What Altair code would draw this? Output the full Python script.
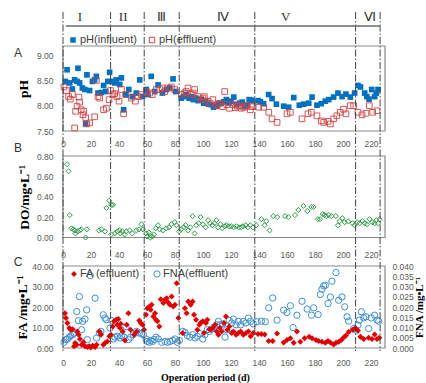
import altair as alt
import pandas as pd

# ---------------- data ----------------
infl_day = [1.7, 2.9, 4.8, 6.7, 8.3, 10.0, 10.7, 11.9, 13.8, 15.5, 16.2, 17.1, 19.0, 21.0, 22.6,
            23.8, 25.0, 27.4, 29.0, 30.5, 32.0, 33.3, 35.2, 36.9, 38.0, 40.5, 41.7, 43.3, 44.8, 47.0,
            49.5, 52.4, 54.8, 56.7, 59.5, 60.7, 63.0, 65.5, 67.9, 71.0, 73.8, 76.2, 78.6, 80.5,
            84.5, 86.0, 88.0, 90.0, 91.7, 93.0, 95.0, 96.5, 98.8, 100.5, 102.0, 104.0, 106.0, 107.5,
            109.5, 111.0, 113.0, 115.0, 116.7, 118.5, 120.0, 122.0, 124.0, 126.0, 128.0, 129.5, 131.4,
            133.0, 135.0, 139.3, 141.0, 143.3, 146.9, 149.3, 152.4, 157.6, 161.2, 164.8, 168.8, 171.9,
            175.5, 177.9, 181.4, 184.5, 187.4, 189.8, 193.3, 196.4, 199.3, 202.1, 205.2, 208.3,
            210.7, 212.5, 215.5, 217.0, 218.6, 220.5, 222.6, 223.8, 225.0]
infl_ph = [8.48, 8.71, 8.45, 8.33, 8.51, 8.48, 8.74, 8.45, 8.35, 8.32, 7.64, 8.61, 8.30, 8.48, 8.51,
           8.58, 8.25, 8.26, 8.40, 8.28, 8.48, 8.66, 8.48, 8.45, 8.51, 8.42, 8.55, 7.92, 8.22, 8.32,
           8.18, 8.25, 8.51, 8.18, 8.32, 8.22, 8.58, 8.28, 8.41, 8.25, 8.32, 8.35, 8.53, 8.28,
           8.15, 8.18, 8.22, 8.15, 8.18, 8.12, 8.15, 8.10, 8.12, 8.05, 8.09, 8.03, 8.02, 7.97,
           7.99, 8.04, 8.05, 8.08, 8.12, 8.06, 8.09, 8.17, 8.02, 8.05, 8.07, 7.98, 8.01,
           8.12, 8.11, 8.10, 8.08, 8.04, 8.22, 8.14, 8.03, 7.99, 7.97, 8.16, 8.01, 8.03,
           8.05, 8.17, 8.01, 8.04, 8.09, 8.12, 8.17, 8.25, 8.18, 8.23, 8.17, 8.25,
           8.40, 8.37, 8.25, 8.18, 8.13, 8.32, 8.18, 8.25, 8.32]

effl_day = [0.7, 2.4, 4.0, 5.2, 6.7, 8.3, 9.0, 10.0, 11.4, 11.9, 13.0, 14.3, 14.8, 16.2, 17.0,
            19.0, 22.6, 23.8, 25.0, 26.2, 29.0, 31.0, 32.9, 34.0, 35.7, 36.9, 38.6, 40.0, 41.7,
            43.3, 44.8, 48.8, 51.7, 53.6, 56.0, 59.5, 61.9, 63.8, 66.7, 69.0, 71.0, 72.6, 75.0,
            77.4, 79.8, 84.5, 86.9, 88.0, 89.3, 91.7, 93.0, 94.0, 96.4, 98.8, 100.0, 101.0, 103.6,
            105.0, 107.0, 109.5, 110.5, 112.0, 114.0, 115.5, 117.0, 119.0, 121.4, 123.0, 124.3,
            126.0, 127.4, 129.0, 131.0, 133.8, 134.5, 135.7, 139.8, 143.3, 147.0, 149.3, 152.9,
            160.0, 162.4, 170.7, 175.0, 177.4, 181.4, 184.5, 186.2, 189.3, 191.0, 193.3, 195.6,
            198.0, 200.4, 202.1, 205.2, 207.6, 210.7, 213.6, 216.4, 218.8, 221.2, 224.3]
effl_ph = [8.37, 8.30, 8.18, 8.13, 8.22, 7.56, 7.89, 7.99, 8.17, 8.07, 7.92, 7.82, 7.89, 7.76, 7.64,
           7.66, 7.78, 8.50, 8.18, 8.15, 7.92, 7.95, 8.12, 8.30, 8.22, 8.24, 8.18, 8.09, 8.32,
           7.84, 8.22, 8.15, 8.09, 8.18, 8.22, 8.28, 8.25, 8.22, 8.32, 8.32, 8.35, 8.28, 8.35,
           8.37, 8.32, 8.22, 8.25, 8.28, 8.35, 8.22, 8.25, 8.32, 8.18, 8.12, 8.15, 8.18, 8.09,
           8.05, 8.12, 8.00, 8.03, 8.05, 7.98, 8.28, 8.02, 7.95, 8.02, 7.96, 7.99,
           8.00, 7.95, 7.97, 8.00, 7.92, 7.98, 7.99, 7.97, 7.97, 7.87, 7.74, 7.67,
           7.84, 7.87, 7.74, 7.84, 7.87, 7.80, 7.70, 7.67, 7.69, 7.64, 7.74, 7.80,
           7.87, 7.93, 7.84, 8.00, 8.00, 7.87, 7.82, 7.85, 8.00, 7.87, 7.90]

do_day = [2.9, 4.0, 4.8, 6.0, 7.4, 8.6, 9.0, 10.5, 12.0, 13.0, 16.2, 17.0, 25.7, 27.4, 30.0,
          31.0, 33.0, 34.5, 35.7, 34.5, 37.0, 38.8, 40.2, 41.0, 42.4, 44.0, 45.2, 47.6, 49.5,
          52.4, 54.3, 56.0, 57.1, 59.5, 60.0, 61.4, 62.4, 63.8, 64.8, 66.2, 67.9, 69.0, 71.4,
          73.8, 75.7, 77.4, 79.8, 81.0, 83.0, 84.5, 86.2, 87.6, 89.3, 91.0, 92.6, 94.0, 95.2,
          97.0, 98.3, 100.0, 101.9, 103.6, 105.2, 106.7, 108.3, 109.5, 110.7, 112.4, 113.8,
          115.5, 116.7, 118.6, 120.2, 121.9, 123.8, 125.7, 127.4, 128.6, 130.5, 132.1, 133.8,
          135.7, 138.0, 141.7, 144.0, 145.2, 147.6, 150.2, 153.0, 158.6, 161.0, 165.7, 168.1,
          171.7, 174.5, 177.4, 179.0, 182.0, 183.6, 185.5, 186.7, 187.9, 189.8, 191.7, 194.8,
          196.4, 197.6, 199.5, 201.2, 203.6, 206.7, 208.3, 210.0, 211.9, 213.8, 215.5, 217.1,
          219.0, 220.9, 222.6, 223.8, 225.0, 226.2]
do_val = [0.72, 0.65, 0.22, 0.09, 0.08, 0.07, 0.04, 0.06, 0.07, 0.08, 0.00, 0.08, 0.07, 0.08, 0.06,
          0.29, 0.36, 0.32, 0.32, 0.03, 0.04, 0.06, 0.07, 0.04, 0.06, 0.03, 0.06, 0.07, 0.04,
          0.07, 0.08, 0.13, 0.08, 0.04, 0.01, 0.05, 0.00, 0.01, 0.03, 0.09, 0.12, 0.08, 0.07,
          0.09, 0.10, 0.13, 0.15, 0.12, 0.06, 0.08, 0.10, 0.12, 0.07, 0.10, 0.21, 0.04, 0.12,
          0.14, 0.20, 0.13, 0.10, 0.17, 0.14, 0.12, 0.14, 0.17, 0.10, 0.13, 0.09,
          0.11, 0.12, 0.11, 0.11, 0.10, 0.11, 0.10, 0.10, 0.11, 0.12, 0.10, 0.12,
          0.10, 0.12, 0.18, 0.12, 0.16, 0.07, 0.21, 0.20, 0.21, 0.20, 0.22, 0.27,
          0.31, 0.26, 0.30, 0.30, 0.18, 0.18, 0.23, 0.22, 0.21, 0.22, 0.21, 0.21,
          0.12, 0.16, 0.19, 0.15, 0.16, 0.14, 0.12, 0.15, 0.14, 0.16, 0.14, 0.13,
          0.18, 0.15, 0.14, 0.17, 0.14, 0.18]

fa_day = [1.4, 2.1, 3.1, 4.5, 5.5, 6.9, 7.9, 8.6, 9.8, 10.2, 11.2, 12.1, 13.3, 14.5, 15.7, 17.4,
          18.8, 19.8, 21.2, 22.9, 24.0, 25.9, 27.1, 28.8, 30.0, 31.7, 33.1, 34.3, 35.5, 36.4,
          37.9, 38.8, 39.5, 40.7, 41.2, 42.6, 44.3, 45.5, 46.7, 48.3, 50.7, 52.6, 54.5, 55.5,
          56.9, 57.9, 59.3, 60.2, 61.7, 62.6, 63.3, 64.5, 65.7, 66.4, 67.4, 68.8, 69.8, 71.7,
          72.9, 74.0, 75.2, 76.4, 77.6, 78.8, 80.0, 81.2, 82.4, 85.5, 87.1, 88.3, 89.5, 91.2,
          92.6, 93.6, 95.0, 96.0, 97.4, 98.3, 99.8, 100.7, 102.1, 103.1, 104.5, 105.5, 107.0,
          108.6, 109.8, 111.0, 112.0, 113.3, 115.0, 116.4, 117.4, 118.8, 120.5, 121.7, 123.6,
          125.2, 126.9, 128.8, 130.7, 132.4, 134.0, 136.0, 139.3, 141.7, 144.0, 146.9, 149.8,
          152.9, 157.6, 160.0, 162.4, 164.8, 167.1, 169.5, 172.6, 175.9, 177.9, 180.7, 182.6,
          185.0, 187.4, 189.3, 191.0, 193.3, 195.0, 196.9, 198.8, 200.5, 202.1, 204.0, 206.9,
          208.8, 210.7, 212.4, 214.8, 218.3, 220.7, 222.6, 224.3, 226.0]
fa_val = [17.0, 14.6, 12.2, 9.7, 8.9, 9.2, 0.8, 2.4, 1.6, 8.1, 6.5, 4.4, 1.6, 2.8, 0.8, 0.5,
          0.8, 0.3, 1.1, 0.5, 1.6, 8.1, 6.5, 1.6, 2.4, 3.2, 5.7, 6.5, 10.5, 13.0,
          13.8, 11.3, 14.1, 9.7, 11.8, 8.1, 3.7, 11.3, 17.0, 8.9, 6.5, 8.1, 13.4, 12.2,
          11.3, 8.9, 16.2, 19.4, 20.3, 18.6, 21.1, 15.4, 17.0, 13.8, 13.0, 10.5, 23.8, 21.9,
          23.5, 24.3, 22.2, 21.1, 25.1, 20.3, 21.1, 31.6, 14.6, 7.3, 19.4, 17.0, 22.7, 21.1,
          22.7, 16.2, 13.8, 8.9, 11.3, 12.2, 13.0, 7.3, 12.2, 13.8, 9.2, 8.9, 9.7,
          11.3, 8.1, 6.5, 9.7, 8.1, 12.2, 15.4, 8.9, 10.5, 7.3, 8.1, 6.5,
          7.3, 8.1, 6.5, 7.3, 8.1, 5.7, 7.3, 6.8, 6.8, 6.6, 3.4, 3.4,
          7.1, 2.7, 3.9, 4.7, 2.6, 8.0, 3.1, 4.7, 5.5, 4.7, 3.9, 3.4,
          3.0, 2.6, 3.4, 2.7, 1.7, 2.6, 3.0, 3.9, 5.1, 6.1, 7.8, 8.9,
          9.7, 8.4, 5.5, 4.4, 5.0, 4.4, 6.6, 4.4, 5.0]

fna_day = [0.7, 2.1, 3.1, 4.5, 5.5, 6.9, 7.9, 9.8, 11.0, 11.7, 13.3, 14.0, 15.7, 16.9, 17.4,
           19.5, 22.9, 24.0, 25.9, 27.1, 28.8, 30.0, 31.0, 33.6, 34.8, 36.0, 37.1, 38.8, 40.7,
           41.9, 43.6, 45.0, 46.7, 48.3, 50.2, 52.6, 54.5, 56.2, 57.4, 59.3, 60.2, 61.7, 62.6,
           64.0, 65.0, 66.4, 68.1, 70.5, 72.9, 74.5, 76.4, 78.3, 80.0, 81.7, 83.1, 85.5, 87.1,
           88.8, 90.7, 92.6, 94.3, 96.0, 97.9, 99.8, 101.4, 103.1, 104.5, 106.2, 107.9, 109.8,
           111.0, 112.1, 114.0, 115.7, 116.9, 118.8, 120.5, 121.7, 123.6, 125.2, 126.9, 128.8,
           130.7, 132.4, 134.0, 135.9, 138.6, 141.7, 144.5, 146.9, 149.8, 152.9, 157.6, 160.0,
           162.4, 164.3, 167.1, 170.7, 174.4, 177.5, 179.1, 182.2, 183.8, 185.0, 186.2, 187.4,
           189.3, 191.0, 192.1, 195.0, 196.9, 199.3, 201.2, 202.9, 204.0, 207.6, 209.3, 210.7,
           211.7, 213.1, 214.8, 216.4, 218.3, 220.2, 222.6, 224.3, 225.5]
fna_val = [0.0028, 0.0041, 0.0044, 0.0053, 0.0060, 0.0065, 0.0073, 0.0178, 0.0133, 0.0251,
           0.0089, 0.0130, 0.0141, 0.0186, 0.0041, 0.0353, 0.0243, 0.0049, 0.0073, 0.0081,
           0.0162, 0.0146, 0.0138, 0.0097, 0.0134, 0.0044, 0.0053, 0.0057, 0.0049, 0.0060,
           0.0053, 0.0105, 0.0041, 0.0053, 0.0065, 0.0081, 0.0073, 0.0070, 0.0065, 0.0044,
           0.0032, 0.0028, 0.0037, 0.0032, 0.0041, 0.0053, 0.0044, 0.0028, 0.0032, 0.0028,
           0.0032, 0.0037, 0.0044, 0.0028, 0.0037, 0.0081, 0.0076, 0.0060, 0.0053, 0.0065,
           0.0049, 0.0057, 0.0070, 0.0044, 0.0065, 0.0089, 0.0081, 0.0092, 0.0102, 0.0113,
           0.0130, 0.0113, 0.0118, 0.0053, 0.0089, 0.0134, 0.0122, 0.0141, 0.0113, 0.0130,
           0.0113, 0.0130, 0.0122, 0.0146, 0.0130, 0.0118, 0.0128, 0.0131, 0.0128, 0.0196,
           0.0244, 0.0136, 0.0185, 0.0173, 0.0206, 0.0100, 0.0160, 0.0228, 0.0190, 0.0160,
           0.0196, 0.0163, 0.0261, 0.0287, 0.0303, 0.0306, 0.0217, 0.0249, 0.0326, 0.0368,
           0.0233, 0.0249, 0.0201, 0.0152, 0.0131, 0.0095, 0.0087, 0.0112, 0.0136, 0.0177,
           0.0147, 0.0152, 0.0095, 0.0147, 0.0160, 0.0136, 0.0131]

phase_bounds = [0, 34, 58, 83, 137, 209, 226.5]
phase_names = ["I", "II", "Ⅲ", "Ⅳ", "V", "Ⅵ"]
phase_label_day = [12, 43, 70, 114, 159, 219]
top_line_span = [2, 226.5]

x_ticks = [0, 20, 40, 60, 80, 100, 120, 140, 160, 180, 200, 220]
ph_ticks = [7.5, 8.0, 8.5, 9.0]
do_ticks = [0.0, 0.2, 0.4, 0.6, 0.8]
fa_ticks = [0, 10, 20, 30, 40]
fna_ticks = [0.0, 0.005, 0.01, 0.015, 0.02, 0.025, 0.03, 0.035, 0.04]

# ---------------- layout / style ----------------
W, H = 322, 383
X_DOMAIN = [0, 230]
A_TOP, A_BOT = 46, 131
B_TOP, B_BOT = 156, 237.5
C_TOP, C_BOT = 266, 348

SANS = "Liberation Sans"
SERIF = "Liberation Serif"
LBL = "#595959"

xs = alt.Scale(domain=X_DOMAIN, nice=False, zero=False)
ph_s = alt.Scale(domain=[7.5, 9.18], range=[A_BOT, A_TOP], nice=False, zero=False)
do_s = alt.Scale(domain=[0, 0.8], range=[B_BOT, B_TOP], nice=False, zero=False)
fa_s = alt.Scale(domain=[0, 40], range=[C_BOT, C_TOP], nice=False, zero=False)
fna_s = alt.Scale(domain=[0, 0.04], range=[C_BOT, C_TOP], nice=False, zero=False)


def x_axis(bottom, pad, **extra):
    return alt.Axis(orient="bottom", offset=bottom - H, values=x_ticks, labelPadding=pad,
                    domain=False, ticks=False, grid=False, labelFlush=False, labelOverlap=False,
                    labelFont=SANS, labelFontSize=8.5, labelColor=LBL, **extra)


def y_axis(ticks, fmt, title, title_x, orient="left", pad=10, angle=270, tsize=13.5):
    return alt.Axis(orient=orient, values=ticks, format=fmt, labelPadding=pad, domain=False,
                    ticks=False, grid=False, labelOverlap=False, labelFont=SANS,
                    labelFontSize=8.5, labelColor=LBL, title=title, titleX=title_x,
                    titleAngle=angle, titleBaseline="middle", titleFont=SERIF,
                    titleFontSize=tsize, titleFontWeight="bold", titleColor="#000000")


df_in = pd.DataFrame({"day": infl_day, "v": infl_ph})
df_ef = pd.DataFrame({"day": effl_day, "v": effl_ph})
df_do = pd.DataFrame({"day": do_day, "v": do_val})
df_fa = pd.DataFrame({"day": fa_day, "v": fa_val})
df_fna = pd.DataFrame({"day": fna_day, "v": fna_val})
df_bounds = pd.DataFrame({"day": phase_bounds})
df_phase = pd.DataFrame({"day": phase_label_day, "name": phase_names})
df_top = pd.DataFrame({"a": [top_line_span[0]], "b": [top_line_span[1]]})
one = pd.DataFrame({"k": [0]})


def frame(scale, dom):
    return alt.Chart(one).mark_rect(filled=False, stroke="#8a8a8a", strokeWidth=1.2).encode(
        x=alt.value(0), x2=alt.value(W),
        y=alt.YDatum(dom[1], type="quantitative", scale=scale, axis=None),
        y2=alt.Y2Datum(dom[0]))


layers = []

# frames
layers.append(frame(ph_s, [7.5, 9.18]))
layers.append(frame(do_s, [0, 0.8]))
layers.append(frame(fa_s, [0, 40]))

# panel A (influent drawn first, effluent on top)
layers.append(alt.Chart(df_in).mark_square(filled=True, color="#0070C0", size=32, opacity=1).encode(
    x=alt.X("day:Q", scale=xs, axis=x_axis(A_BOT, 8, title=None)),
    y=alt.Y("v:Q", scale=ph_s, axis=y_axis(ph_ticks, ".2f", "pH", -40))))
layers.append(alt.Chart(df_ef).mark_square(filled=False, color="#D04545", size=32, strokeWidth=1,
                                           opacity=0.9).encode(
    x=alt.X("day:Q", scale=xs, axis=None),
    y=alt.Y("v:Q", scale=ph_s, axis=None)))

# panel B
layers.append(alt.Chart(df_do).mark_point(shape="diamond", filled=False, color="#2E9A45", size=26,
                                          strokeWidth=1, opacity=1).encode(
    x=alt.X("day:Q", scale=xs, axis=x_axis(B_BOT, 13, title=None)),
    y=alt.Y("v:Q", scale=do_s, axis=y_axis(do_ticks, ".2f", "DO/mg•L⁻¹", -39))))

# panel C
layers.append(alt.Chart(df_fna).mark_point(shape="circle", filled=False, color="#3F8FD6", size=40,
                                           strokeWidth=1, opacity=1).encode(
    x=alt.X("day:Q", scale=xs, axis=None),
    y=alt.Y("v:Q", scale=fna_s,
            axis=y_axis(fna_ticks, ".3f", "FNA /mg•L⁻¹", 34, orient="right", pad=7,
                        tsize=11))))
layers.append(alt.Chart(df_fa).mark_point(shape="diamond", filled=True, color="#E00000", size=36,
                                          opacity=1).encode(
    x=alt.X("day:Q", scale=xs,
            axis=x_axis(C_BOT, 10.5, title="Operation period (d)", titleX=142, titleY=24,
                        titleBaseline="top", titleFont=SERIF, titleFontSize=10,
                        titleFontWeight="bold", titleColor="#000000")),
    y=alt.Y("v:Q", scale=fa_s, axis=y_axis(fa_ticks, ".2f", "FA /mg•L⁻¹", -41))))

# phase separators and labels
layers.append(alt.Chart(df_bounds).mark_rule(color="#444444", strokeWidth=1,
                                             strokeDash=[7, 2, 1.5, 2]).encode(
    x=alt.X("day:Q", scale=xs, axis=None), y=alt.value(12), y2=alt.value(351)))
layers.append(alt.Chart(df_top).mark_rule(color="#6a6a6a", strokeWidth=1.5).encode(
    x=alt.X("a:Q", scale=xs, axis=None), x2="b:Q", y=alt.value(26)))
layers.append(alt.Chart(df_phase).mark_text(font=SERIF, fontSize=13, color="#333333",
                                            baseline="middle").encode(
    x=alt.X("day:Q", scale=xs, axis=None), y=alt.value(17), text="name:N"))

# panel letters
for letter, yy in [("A", 53), ("B", 148), ("C", 262)]:
    layers.append(alt.Chart(one).mark_text(text=letter, font=SANS, fontSize=12, color="#333333",
                                           baseline="middle").encode(
        x=alt.value(-45), y=alt.value(yy)))


# legends
def leg_sym(x, y, shape, filled, color, size):
    return alt.Chart(one).mark_point(shape=shape, filled=filled, color=color, size=size,
                                     strokeWidth=1, opacity=1).encode(x=alt.value(x), y=alt.value(y))


def leg_txt(x, y, txt):
    return alt.Chart(one).mark_text(text=txt, font=SANS, fontSize=11, color="#404040",
                                    align="left", baseline="middle").encode(
        x=alt.value(x), y=alt.value(y))


layers += [leg_sym(10, 40, "square", True, "#0070C0", 30), leg_txt(17, 40, "pH(influent)"),
           leg_sym(89, 40, "square", False, "#D04545", 30), leg_txt(96, 40, "pH(effluent)"),
           leg_sym(11, 274, "diamond", True, "#E00000", 34), leg_txt(17, 274, "FA (effluent)"),
           leg_sym(94, 274, "circle", False, "#3F8FD6", 40), leg_txt(100, 274, "FNA(effluent)")]

chart = alt.layer(*layers).properties(
    width=W, height=H,
    padding={"left": 63, "top": 0, "right": 41, "bottom": 0},
    autosize=alt.AutoSizeParams(type="none"),
).resolve_scale(y="independent").resolve_axis(x="independent", y="independent").configure_view(
    stroke=None)

chart.save("out.html", embed_options={"renderer": "svg", "actions": False})
